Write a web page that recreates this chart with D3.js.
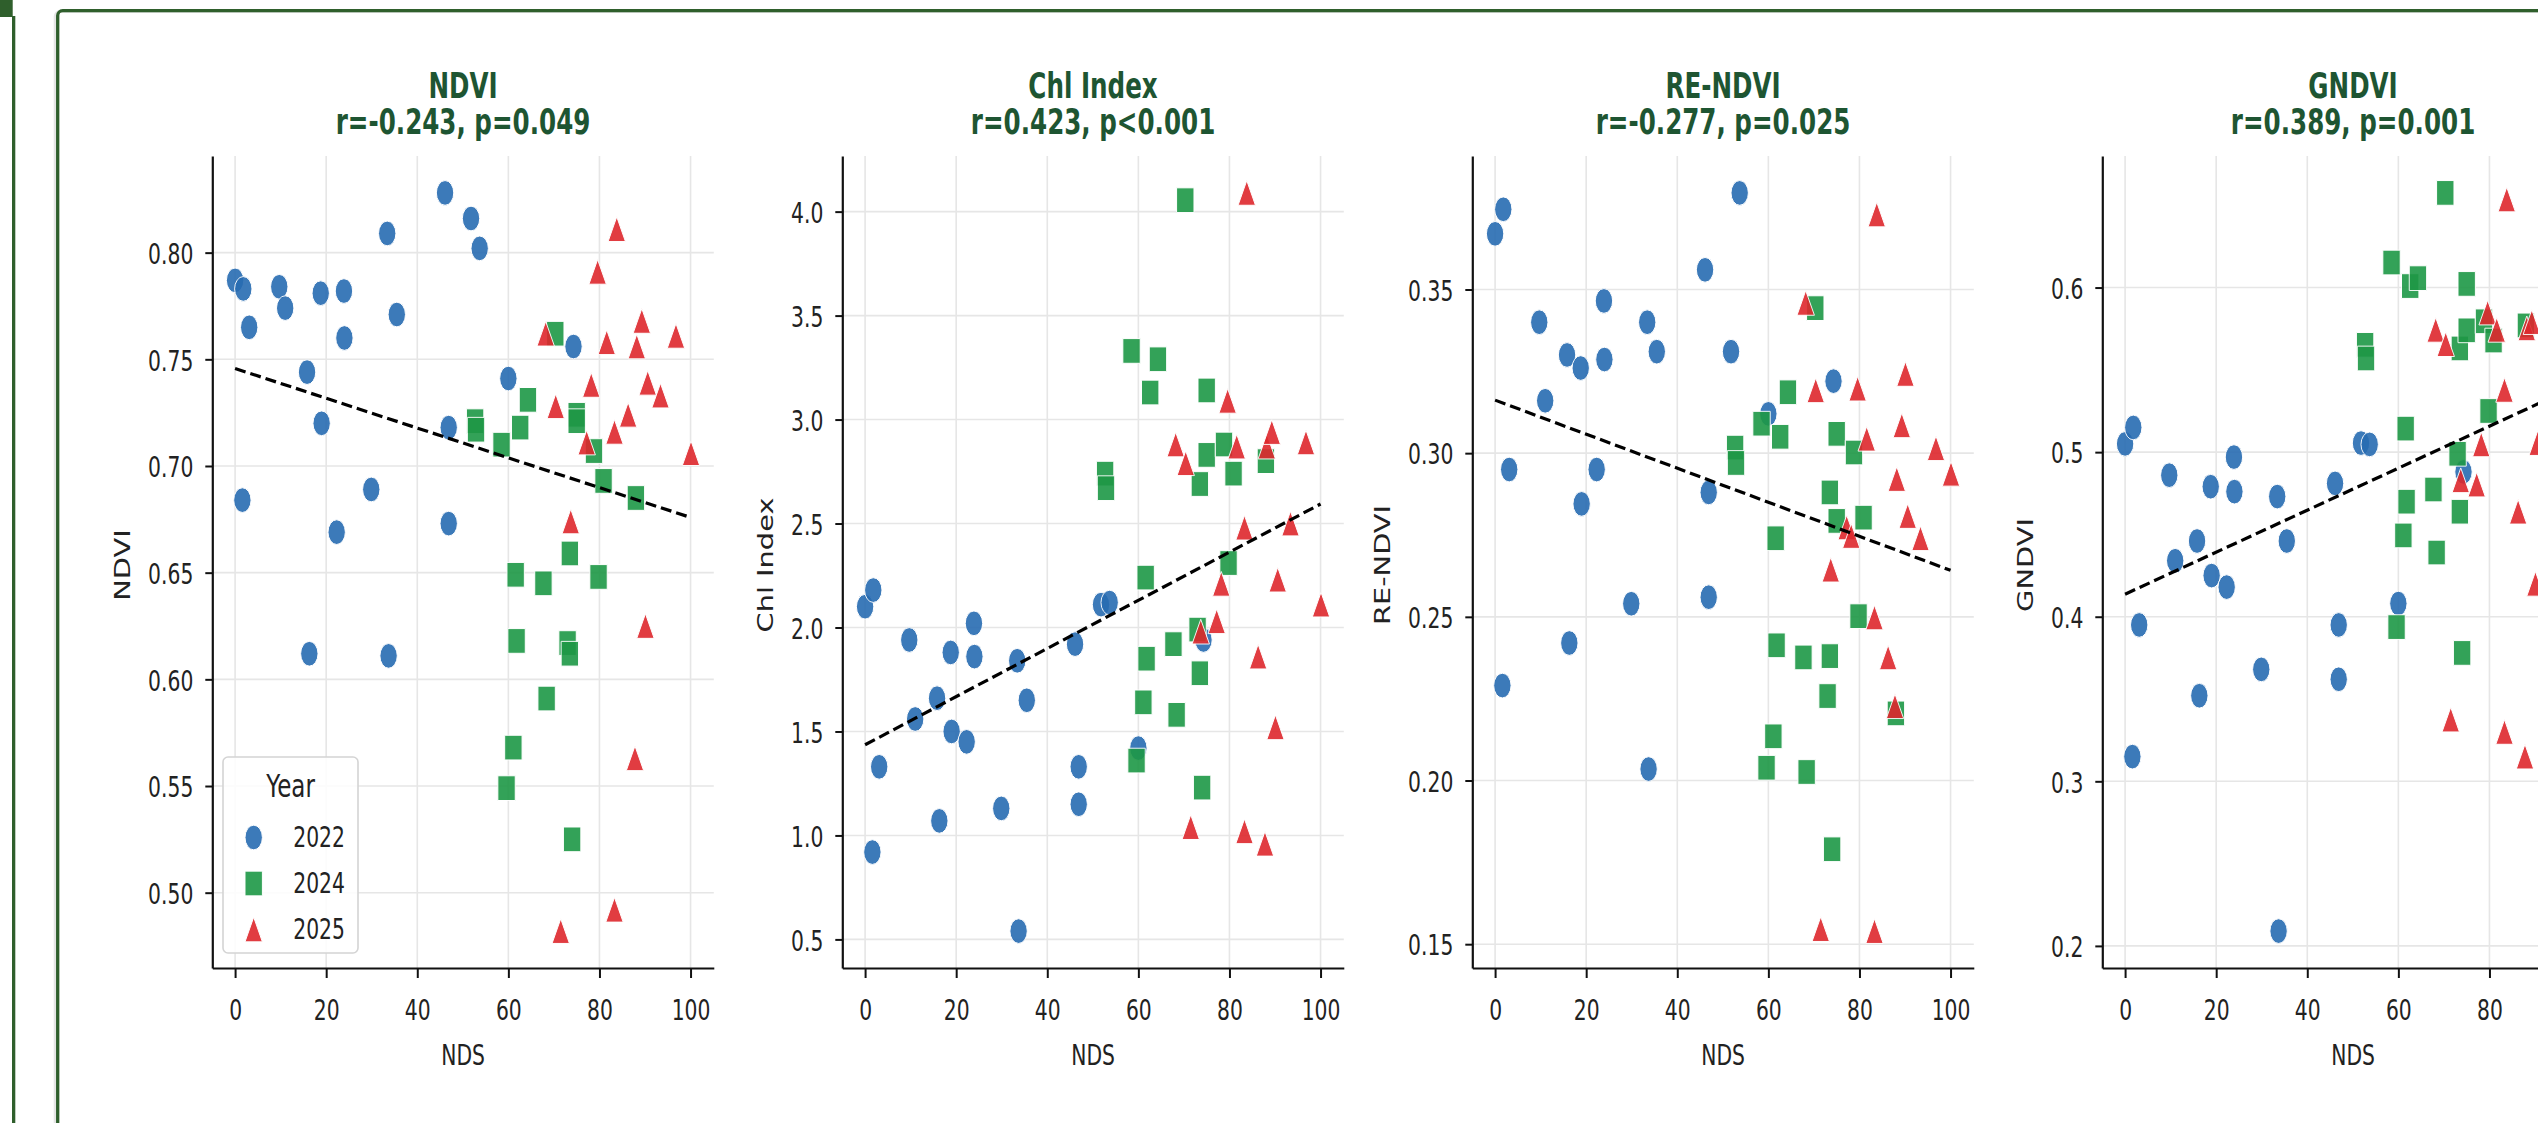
<!DOCTYPE html>
<html><head><meta charset="utf-8">
<script src="https://cdn.jsdelivr.net/npm/d3@7"></script>
<style>html,body{margin:0;padding:0;background:#fff;overflow:hidden}</style>
</head><body>
<svg id="chart" width="2538" height="1123"></svg>
<script>
// ---------------- DATA ----------------
const years = ["2022", "2024", "2025"];
const indexNames = ["NDVI", "Chl Index", "RE-NDVI", "GNDVI"];
const statLabels = ["r=-0.243, p=0.049", "r=0.423, p<0.001", "r=-0.277, p=0.025", "r=0.389, p=0.001"];
const xLabel = "NDS";
const xTicks = [0, 20, 40, 60, 80, 100];
const yTicksNDVI = [0.50, 0.55, 0.60, 0.65, 0.70, 0.75, 0.80];
const yTicksChl = [0.5, 1.0, 1.5, 2.0, 2.5, 3.0, 3.5, 4.0];
const yTicksRE = [0.15, 0.20, 0.25, 0.30, 0.35];
const yTicksGN = [0.2, 0.3, 0.4, 0.5, 0.6];
const yTickFormats = [".2f", ".1f", ".2f", ".1f"];
// fitted trend line values at NDS = 0 and NDS = 100
const trendNds = [0, 100];
const trendAt0 = [0.7457, 1.436, 0.3162, 0.4137];
const trendAt100 = [0.6759, 2.594, 0.2642, 0.5413];

const nds2022 = [0.0, 1.8, 3.1, 1.6, 9.7, 11.0, 15.8, 16.3, 18.8, 19.0, 23.9, 24.0, 22.3, 29.9, 33.4, 33.7, 35.5, 46.1, 46.9, 46.9, 51.8, 53.7, 60.0, 74.3];
const ndvi2022 = [0.787, 0.783, 0.765, 0.684, 0.784, 0.774, 0.744, 0.612, 0.781, 0.720, 0.782, 0.760, 0.669, 0.689, 0.809, 0.611, 0.771, 0.828, 0.718, 0.673, 0.816, 0.802, 0.741, 0.756];
const chl2022 = [2.10, 2.18, 1.33, 0.92, 1.94, 1.56, 1.66, 1.07, 1.88, 1.50, 2.02, 1.86, 1.45, 1.13, 1.84, 0.54, 1.65, 1.92, 1.33, 1.15, 2.11, 2.12, 1.42, 1.94];
const rendvi2022 = [0.367, 0.3745, 0.295, 0.229, 0.340, 0.316, 0.330, 0.242, 0.326, 0.2845, 0.3465, 0.3286, 0.295, 0.254, 0.340, 0.2035, 0.331, 0.356, 0.288, 0.256, 0.331, 0.3795, 0.312, 0.322];
const gndvi2022 = [0.505, 0.515, 0.395, 0.315, 0.486, 0.434, 0.446, 0.352, 0.479, 0.425, 0.497, 0.476, 0.418, 0.368, 0.473, 0.209, 0.446, 0.481, 0.395, 0.362, 0.5055, 0.5047, 0.408, 0.488];

const nds2024 = [52.7, 52.9, 58.5, 59.6, 61.1, 61.6, 61.8, 62.6, 64.3, 67.7, 68.4, 70.3, 73.0, 73.5, 73.5, 74.0, 75.0, 75.0, 78.8, 79.8, 80.9, 88.0];
const ndvi2024 = [0.721, 0.717, 0.710, 0.549, 0.568, 0.649, 0.618, 0.718, 0.731, 0.645, 0.591, 0.762, 0.617, 0.659, 0.612, 0.525, 0.724, 0.721, 0.707, 0.648, 0.693, 0.685];
const chl2024 = [2.74, 2.67, 3.33, 1.36, 1.64, 2.24, 1.85, 3.13, 3.29, 1.92, 1.58, 4.055, 1.99, 2.69, 1.78, 1.23, 3.14, 2.83, 2.88, 2.31, 2.74, 2.80];
const rendvi2024 = [0.3017, 0.297, 0.309, 0.2039, 0.2135, 0.274, 0.2413, 0.305, 0.3186, 0.2376, 0.2026, 0.3443, 0.2258, 0.288, 0.238, 0.179, 0.3059, 0.2793, 0.3002, 0.2502, 0.2803, 0.2205];
const gndvi2024 = [0.5652, 0.5569, 0.6152, 0.3937, 0.4494, 0.5143, 0.4699, 0.6009, 0.6057, 0.4773, 0.439, 0.6575, 0.499, 0.563, 0.4638, 0.378, 0.6022, 0.574, 0.5795, 0.525, 0.5678, 0.577];

const nds2025 = [68.2, 70.4, 71.5, 73.7, 77.2, 78.2, 79.6, 81.6, 83.3, 83.3, 83.8, 86.3, 87.8, 88.2, 89.3, 90.1, 90.6, 93.4, 96.8, 100.1];
const ndvi2025 = [0.762, 0.728, 0.482, 0.674, 0.711, 0.738, 0.791, 0.758, 0.716, 0.492, 0.811, 0.724, 0.563, 0.756, 0.768, 0.625, 0.739, 0.733, 0.761, 0.706];
const chl2025 = [2.88, 2.79, 1.04, 1.98, 2.03, 2.21, 3.09, 2.87, 2.48, 1.02, 4.09, 1.86, 0.96, 2.87, 2.94, 1.52, 2.23, 2.50, 2.89, 2.11];
const rendvi2025 = [0.3459, 0.3192, 0.1546, 0.2644, 0.2773, 0.2747, 0.3197, 0.3044, 0.2498, 0.154, 0.3729, 0.2376, 0.2227, 0.2921, 0.3085, 0.3242, 0.2808, 0.274, 0.3015, 0.2937];
const gndvi2025 = [0.5743, 0.5656, 0.3375, 0.4829, 0.4803, 0.5047, 0.5848, 0.5743, 0.5378, 0.330, 0.6535, 0.4638, 0.315, 0.5752, 0.579, 0.42, 0.5055, 0.55, 0.56, 0.52];

// ---------------- STYLE / LAYOUT ----------------
const K = 1.42;                     // vertical stretch of the original picture
const FONT = "'DejaVu Sans', 'Liberation Sans', sans-serif";
const colors = ["#286cb2", "#1e9846", "#de282d"];
const shapes = ["circle", "square", "triangle"];
const frameColor = "#2f5f2c";
const titleColor = "#1e5532";
const W = 2538;
const spine0 = 212.3, step = 630, axW = 501.5, axTop = 156, axBottom = 968;

const svg = d3.select("#chart");

// page frame
svg.append("rect").attr("x", 0).attr("y", 0).attr("width", 12.7).attr("height", 17).attr("fill", frameColor);
svg.append("rect").attr("x", 12).attr("y", 16).attr("width", 3.3).attr("height", 1110).attr("fill", frameColor);
svg.append("rect").attr("x", 55.2).attr("y", 11.5).attr("width", 3000).attr("height", 2000)
  .attr("rx", 5).attr("fill", "none").attr("stroke", "rgba(0,0,0,0.10)").attr("stroke-width", 3);
svg.append("rect").attr("x", 57.7).attr("y", 10.6).attr("width", 3000).attr("height", 2000)
  .attr("rx", 5).attr("fill", "none").attr("stroke", frameColor).attr("stroke-width", 3.3);

function markerPath(shape) {
  const r = 8.7;
  if (shape === "circle") return `M${-r},0A${r},${r} 0 1,0 ${r},0A${r},${r} 0 1,0 ${-r},0Z`;
  if (shape === "square") return `M${-r},${-r}H${r}V${r}H${-r}Z`;
  return `M0,${-r}L${r},${r}L${-r},${r}Z`;
}

const seriesByPanel = [
  [ndvi2022, ndvi2024, ndvi2025],
  [chl2022, chl2024, chl2025],
  [rendvi2022, rendvi2024, rendvi2025],
  [gndvi2022, gndvi2024, gndvi2025]
];
const ndsByYear = [nds2022, nds2024, nds2025];
const yTicksByPanel = [yTicksNDVI, yTicksChl, yTicksRE, yTicksGN];
const allNds = [].concat(nds2022, nds2024, nds2025);
const xExt = d3.extent(allNds), xSpan = xExt[1] - xExt[0];

seriesByPanel.forEach((series, p) => {
  const left = spine0 + step * p;
  const g = svg.append("g");
  const allV = [].concat(...series);
  const ext = d3.extent(allV), span = ext[1] - ext[0];
  const x = d3.scaleLinear().domain([xExt[0] - 0.05 * xSpan, xExt[1] + 0.05 * xSpan]).range([left, left + axW]);
  const y = d3.scaleLinear().domain([ext[0] - 0.05 * span, ext[1] + 0.05 * span]).range([axBottom, axTop]);
  const yt = yTicksByPanel[p];

  // grid
  g.append("g").selectAll("line").data(xTicks).join("line")
    .attr("x1", d => x(d)).attr("x2", d => x(d)).attr("y1", axTop).attr("y2", axBottom)
    .attr("stroke", "#e6e6e6").attr("stroke-width", 1.6);
  g.append("g").selectAll("line").data(yt).join("line")
    .attr("x1", left).attr("x2", left + axW).attr("y1", d => y(d)).attr("y2", d => y(d))
    .attr("stroke", "#e6e6e6").attr("stroke-width", 1.6);

  // points
  series.forEach((vals, s) => {
    const pts = vals.map((v, i) => [ndsByYear[s][i], v]);
    g.append("g").selectAll("path").data(pts).join("path")
      .attr("d", markerPath(shapes[s]))
      .attr("transform", d => `translate(${x(d[0])},${y(d[1])}) scale(1,${K})`)
      .attr("fill", colors[s]).attr("opacity", 0.9)
      .attr("stroke", "#fff").attr("stroke-width", 1).attr("vector-effect", "non-scaling-stroke");
  });

  // trend line
  const line = d3.line().x(d => x(d[0])).y(d => y(d[1]));
  g.append("path").datum([[trendNds[0], trendAt0[p]], [trendNds[1], trendAt100[p]]])
    .attr("d", line).attr("fill", "none").attr("stroke", "#000")
    .attr("stroke-width", 3.2).attr("stroke-dasharray", "11,5");

  // axes (tick labels lying beyond the page edge are not shown, as in the cropped original)
  const visibleX = xTicks.filter(t => x(t) + 10 < W);
  const xa = g.append("g").attr("transform", `translate(0,${axBottom})`)
    .call(d3.axisBottom(x).tickValues(visibleX).tickSize(10).tickSizeOuter(0).tickFormat(d3.format("d")));
  const ya = g.append("g").attr("transform", `translate(${left},0)`)
    .call(d3.axisLeft(y).tickValues(yt).tickSize(7).tickSizeOuter(0).tickFormat(d3.format(yTickFormats[p])));
  [xa, ya].forEach(a => {
    a.select(".domain").attr("stroke", "#111").attr("stroke-width", 2.2);
    a.selectAll(".tick line").attr("stroke", "#111").attr("stroke-width", 2);
    a.selectAll("text").attr("font-family", FONT).attr("font-size", 20.3).attr("fill", "#222");
  });
  xa.selectAll(".tick text").attr("dy", null).attr("y", 52 / K).attr("transform", `scale(1,${K})`);
  ya.selectAll(".tick text").attr("dy", null).attr("x", -19).attr("y", 10.8 / K).attr("transform", `scale(1,${K})`);

  let maxW = 0;
  ya.selectAll(".tick text").each(function () { maxW = Math.max(maxW, this.getComputedTextLength()); });

  // axis labels
  g.append("text").text(xLabel)
    .attr("transform", `translate(${left + axW / 2},1065) scale(1,${K})`)
    .attr("text-anchor", "middle").attr("font-family", FONT).attr("font-size", 20.3).attr("fill", "#222");
  const lx = left - 19 - maxW - 18;
  g.append("text").text(indexNames[p])
    .attr("transform", `translate(${lx},${(axTop + axBottom) / 2 + 3}) scale(1,${K}) rotate(-90)`)
    .attr("text-anchor", "middle").attr("font-family", FONT).attr("font-size", 20.3).attr("fill", "#222");

  // titles
  const cx = left + axW / 2;
  g.append("text").text(indexNames[p])
    .attr("transform", `translate(${cx},98) scale(1,${K})`)
    .attr("text-anchor", "middle").attr("font-family", FONT).attr("font-size", 24.6)
    .attr("font-weight", "bold").attr("fill", titleColor);
  g.append("text").text(statLabels[p])
    .attr("transform", `translate(${cx},134) scale(1,${K})`)
    .attr("text-anchor", "middle").attr("font-family", FONT).attr("font-size", 24.6)
    .attr("font-weight", "bold").attr("fill", titleColor);

  // legend on first panel
  if (p === 0) {
    const lg = svg.append("g");
    lg.append("rect").attr("x", 223).attr("y", 757).attr("width", 135).attr("height", 196)
      .attr("rx", 5).attr("fill", "rgba(255,255,255,0.85)").attr("stroke", "#d4d4d4").attr("stroke-width", 1.6);
    lg.append("text").text("Year").attr("transform", `translate(290.5,797) scale(1,${K})`)
      .attr("text-anchor", "middle").attr("font-family", FONT).attr("font-size", 23).attr("fill", "#222");
    years.forEach((yr, i) => {
      const cy = 837.5 + 46 * i;
      lg.append("path").attr("d", markerPath(shapes[i]))
        .attr("transform", `translate(253.7,${cy}) scale(1,${K})`)
        .attr("fill", colors[i]).attr("opacity", 0.9)
        .attr("stroke", "#fff").attr("stroke-width", 1).attr("vector-effect", "non-scaling-stroke");
      lg.append("text").text(yr).attr("transform", `translate(293.3,${cy + 9.5}) scale(1,${K})`)
        .attr("font-family", FONT).attr("font-size", 20.3).attr("fill", "#222");
    });
  }
});
</script>
</body></html>
